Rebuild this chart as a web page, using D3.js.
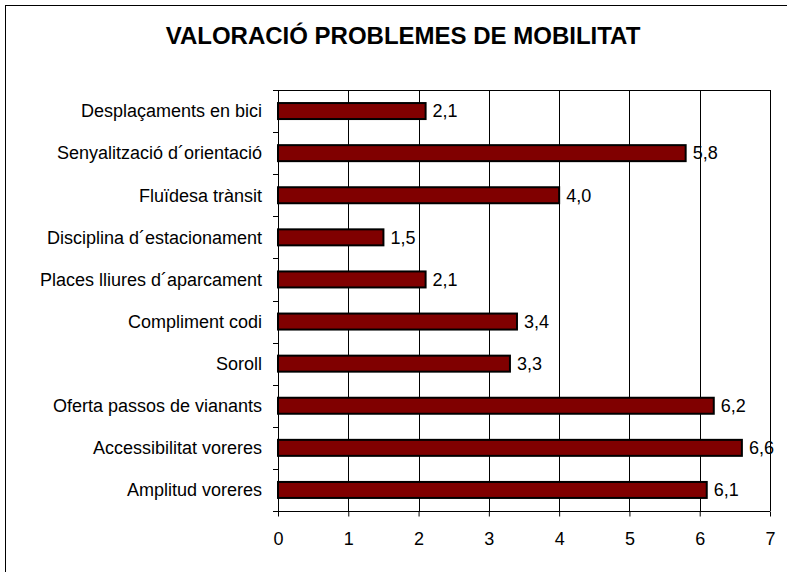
<!DOCTYPE html>
<html>
<head>
<meta charset="utf-8">
<script src="https://cdn.jsdelivr.net/npm/d3@7"></script>
<style>
  body { margin: 0; background: #fff; }
  text { font-family: "Liberation Sans", Arial, sans-serif; fill: #000; }
</style>
</head>
<body>
<div id="chart"></div>
<script>
var categories = [
    'Desplaçaments en bici',
    'Senyalització d´orientació',
    'Fluïdesa trànsit',
    'Disciplina d´estacionament',
    'Places lliures d´aparcament',
    'Compliment codi',
    'Soroll',
    'Oferta passos de vianants',
    'Accessibilitat voreres',
    'Amplitud voreres'
];
var values = [2.1, 5.8, 4.0, 1.5, 2.1, 3.4, 3.3, 6.2, 6.6, 6.1];
var xTicks = [0, 1, 2, 3, 4, 5, 6, 7];
var title = 'VALORACIÓ PROBLEMES DE MOBILITAT';

var width = 787, height = 572;
var plotLeft = 278, plotRight = 770, plotTop = 90, plotBottom = 511;

var svg = d3.select('#chart').append('svg')
    .attr('width', width)
    .attr('height', height);

// outer frame (runs off the right and bottom edges)
svg.append('rect')
    .attr('x', 5.5).attr('y', 5.5)
    .attr('width', 900).attr('height', 900)
    .attr('fill', 'none')
    .attr('stroke', '#000')
    .attr('stroke-width', 1);

svg.append('text')
    .attr('x', 403)
    .attr('y', 44)
    .attr('text-anchor', 'middle')
    .attr('font-size', '24px')
    .attr('font-weight', 'bold')
    .text(title);

var x = d3.scaleLinear().domain([0, 7]).range([plotLeft, plotRight]);
var y = d3.scaleBand().domain(categories).range([plotTop, plotBottom]).paddingInner(0.62).paddingOuter(0.31);
var band = d3.scaleBand().domain(categories).range([plotTop, plotBottom]);

// vertical grid lines
svg.append('g')
    .selectAll('line')
    .data(xTicks.slice(1))
    .enter()
    .append('line')
    .attr('x1', function(d) { return Math.round(x(d)) + 0.5; })
    .attr('x2', function(d) { return Math.round(x(d)) + 0.5; })
    .attr('y1', plotTop)
    .attr('y2', plotBottom)
    .attr('stroke', '#000')
    .attr('stroke-width', 1);

// top border of plot
svg.append('line')
    .attr('x1', plotLeft).attr('x2', plotRight)
    .attr('y1', plotTop + 0.5).attr('y2', plotTop + 0.5)
    .attr('stroke', '#000');

// bars
svg.append('g')
    .selectAll('rect')
    .data(values)
    .enter()
    .append('rect')
    .attr('x', x(0))
    .attr('y', function(d, i) { return y(categories[i]); })
    .attr('width', function(d) { return x(d) - x(0); })
    .attr('height', y.bandwidth())
    .attr('fill', '#800000')
    .attr('stroke', '#000')
    .attr('stroke-width', 2);

// value labels
svg.append('g')
    .selectAll('text')
    .data(values)
    .enter()
    .append('text')
    .attr('x', function(d) { return x(d) + 7; })
    .attr('y', function(d, i) { return y(categories[i]) + y.bandwidth() / 2; })
    .attr('dy', '0.35em')
    .attr('font-size', '18px')
    .text(function(d) { return d.toFixed(1).replace('.', ','); });

// y axis: ticks at band boundaries
var yAxis = svg.append('g');
yAxis.append('line')
    .attr('x1', plotLeft + 0.5).attr('x2', plotLeft + 0.5)
    .attr('y1', plotTop).attr('y2', plotBottom + 5)
    .attr('stroke', '#000');
yAxis.selectAll('line.tick')
    .data(d3.range(categories.length + 1))
    .enter()
    .append('line')
    .attr('class', 'tick')
    .attr('x1', plotLeft - 5).attr('x2', plotLeft)
    .attr('y1', function(i) { return Math.round(plotTop + i * band.step()) + 0.5; })
    .attr('y2', function(i) { return Math.round(plotTop + i * band.step()) + 0.5; })
    .attr('stroke', '#000');
yAxis.selectAll('text')
    .data(categories)
    .enter()
    .append('text')
    .attr('x', plotLeft - 16)
    .attr('y', function(d) { return band(d) + band.bandwidth() / 2; })
    .attr('dy', '0.35em')
    .attr('text-anchor', 'end')
    .attr('font-size', '18px')
    .text(function(d) { return d; });

// x axis
var xAxis = d3.axisBottom(x)
    .tickValues(xTicks)
    .tickSize(5)
    .tickPadding(16)
    .tickFormat(d3.format('d'));

svg.append('g')
    .attr('transform', 'translate(0,' + (plotBottom + 0.5) + ')')
    .call(xAxis)
    .call(function(g) {
        g.select('.domain').attr('d', 'M' + plotLeft + ',0H' + plotRight);
        g.selectAll('line').attr('stroke', '#000');
        g.selectAll('text')
            .attr('font-size', '18px')
            .attr('font-family', '"Liberation Sans", Arial, sans-serif');
    });
</script>
</body>
</html>
